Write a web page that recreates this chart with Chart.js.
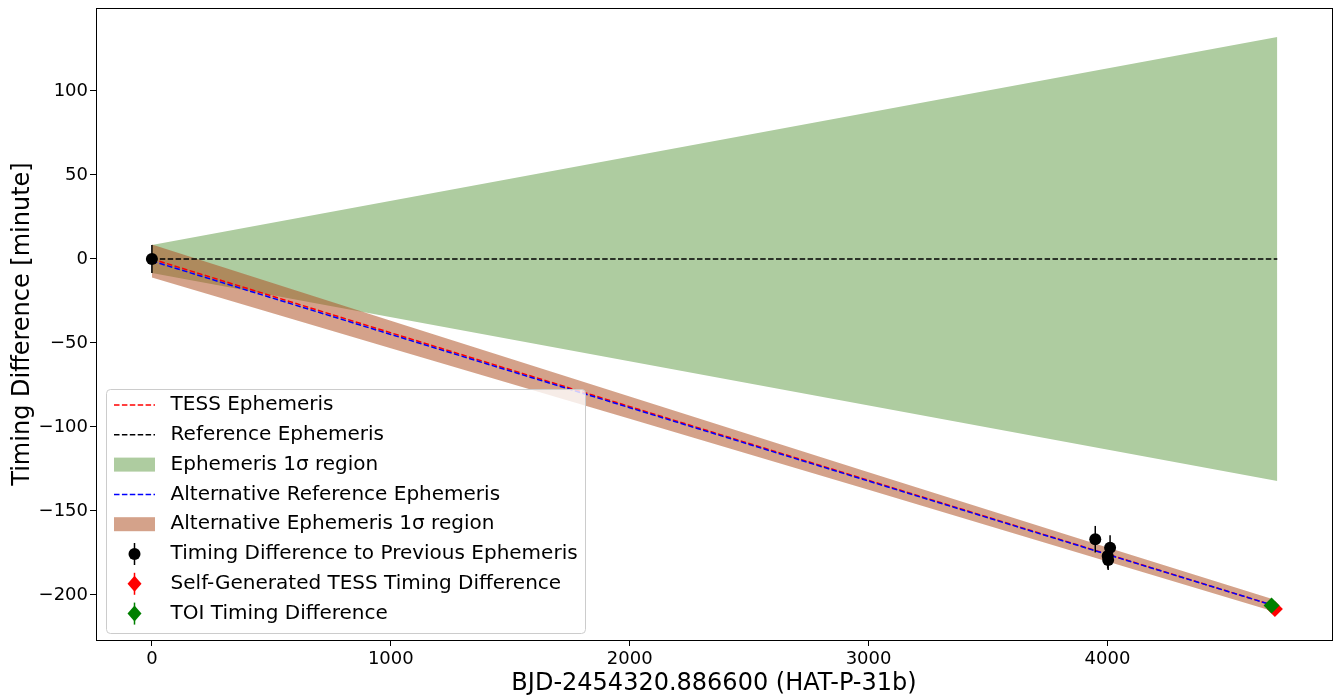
<!DOCTYPE html>
<html>
<head>
<meta charset="utf-8">
<script src="https://cdn.jsdelivr.net/npm/chart.js@4.4.0/dist/chart.umd.min.js"></script>
<style>
html,body{margin:0;padding:0;background:#fff;}
#wrap{width:1340px;height:698px;}
</style>
</head>
<body>
<div id="wrap"><canvas id="mychart" width="1340" height="698"></canvas></div>
<script>
// axis ticks
var xTicks = [0, 1000, 2000, 3000, 4000];
var yTicks = [-200, -150, -100, -50, 0, 50, 100];

// reference ephemeris and its 1 sigma region
var refX = [0, 4711];
var refY = [0, 0];
var refUp = [8.3, 132.1];
var refLow = [-8.3, -132.1];

// TESS ephemeris
var tessLineX = [0, 4690];
var tessLineY = [0, -206.0];

// alternative reference ephemeris and its 1 sigma region
var altX = [0, 1000, 2000, 3000, 4000, 4690];
var altY = [-1.2, -44.9, -88.5, -132.2, -175.9, -206.0];
var altUp = [8.6, -36.7, -81.9, -127.0, -171.7, -202.4];
var altLow = [-11.0, -53.1, -95.1, -137.4, -180.1, -209.6];

// timing differences
var obsX = [0, 3949, 4011, 4001, 4003];
var obsY = [0, -166.8, -171.9, -176.8, -179.2];
var obsErr = [8.3, 7.9, 7.5, 7.5, 6.0];
var tessPtX = [4701];
var tessPtY = [-208.3];
var tessPtErr = [1.0];
var toiX = [4687];
var toiY = [-206.2];
var toiErr = [1.0];

var FONT = "'DejaVu Sans', sans-serif";

function pairs(xs, ys) {
	var out = [];
	for (var i = 0; i < xs.length; i++) out.push({x: xs[i], y: ys[i]});
	return out;
}
function fmt(v) {
	return v < 0 ? '\u2212' + Math.abs(v) : String(v);
}

// error bars drawn under each marker
var errorBars = {
	id: 'errorBars',
	beforeDatasetDraw: function(chart, args) {
		var ds = chart.data.datasets[args.index];
		if (!ds.errors) return;
		var ctx = chart.ctx, ys = chart.scales.y;
		ctx.save();
		ctx.strokeStyle = ds.errorColor;
		ctx.lineWidth = 1.5;
		for (var i = 0; i < ds.data.length; i++) {
			var px = args.meta.data[i].x;
			ctx.beginPath();
			ctx.moveTo(px, ys.getPixelForValue(ds.data[i].y + ds.errors[i]));
			ctx.lineTo(px, ys.getPixelForValue(ds.data[i].y - ds.errors[i]));
			ctx.stroke();
		}
		ctx.restore();
	}
};

// frame around the plot + matplotlib style legend
var frameLegend = {
	id: 'frameLegend',
	afterDraw: function(chart) {
		var ctx = chart.ctx, a = chart.chartArea;
		ctx.save();
		ctx.strokeStyle = '#000';
		ctx.lineWidth = 1;
		ctx.strokeRect(Math.round(a.left) + 0.5, Math.round(a.top) + 0.5, Math.round(a.right - a.left), Math.round(a.bottom - a.top));

		var bx = a.left + 10, by = a.bottom - 251, bw = 479, bh = 244;
		ctx.beginPath();
		ctx.roundRect(bx + 0.5, by + 0.5, bw, bh, 4);
		ctx.fillStyle = 'rgba(255,255,255,0.8)';
		ctx.fill();
		ctx.strokeStyle = '#cccccc';
		ctx.stroke();

		var row = 0;
		chart.data.datasets.forEach(function(ds) {
			if (!ds.legendKind) return;
			var yc = by + 16 + row * 29.8;
			var h0 = bx + 8, h1 = bx + 49, hc = (h0 + h1) / 2;
			ctx.save();
			if (ds.legendKind == 'dash') {
				ctx.strokeStyle = ds.borderColor;
				ctx.lineWidth = 1.5;
				ctx.setLineDash([5.5, 2.4]);
				ctx.beginPath();
				ctx.moveTo(h0, yc);
				ctx.lineTo(h1, yc);
				ctx.stroke();
			} else if (ds.legendKind == 'fill') {
				ctx.fillStyle = ds.backgroundColor;
				ctx.fillRect(h0, yc - 7, h1 - h0, 14);
			} else {
				ctx.strokeStyle = ds.errorColor;
				ctx.lineWidth = 1.5;
				ctx.beginPath();
				ctx.moveTo(hc, yc - 11);
				ctx.lineTo(hc, yc + 11);
				ctx.stroke();
				ctx.fillStyle = ds.backgroundColor;
				ctx.beginPath();
				if (ds.legendKind == 'circle') {
					ctx.arc(hc, yc, 6, 0, Math.PI * 2);
				} else {
					ctx.moveTo(hc, yc - 8);
					ctx.lineTo(hc + 7, yc);
					ctx.lineTo(hc, yc + 8);
					ctx.lineTo(hc - 7, yc);
					ctx.closePath();
				}
				ctx.fill();
			}
			ctx.restore();
			ctx.fillStyle = '#000';
			ctx.font = '20px ' + FONT;
			ctx.textBaseline = 'middle';
			ctx.fillText(ds.label, bx + 64.6, yc);
			row++;
		});
		ctx.restore();
	}
};

var ctx = document.getElementById('mychart').getContext('2d');
var chart = new Chart(ctx, {
	type: 'scatter',
	data: {
		datasets: [{
			label: 'TESS Ephemeris',
			data: pairs(tessLineX, tessLineY),
			showLine: true, borderColor: 'rgb(255,0,0)', borderWidth: 1.5, borderDash: [5.5, 2.4],
			pointRadius: 0, legendKind: 'dash', order: 7
		}, {
			label: 'Reference Ephemeris',
			data: pairs(refX, refY),
			showLine: true, borderColor: '#000', borderWidth: 1.5, borderDash: [5.5, 2.4],
			pointRadius: 0, legendKind: 'dash', order: 8
		}, {
			label: 'Ephemeris 1\u03C3 region',
			data: pairs(refX, refUp),
			showLine: true, borderWidth: 0, pointRadius: 0,
			backgroundColor: 'rgb(174,204,160)', fill: '+1', legendKind: 'fill', order: 11
		}, {
			label: 'ref low',
			data: pairs(refX, refLow),
			showLine: true, borderWidth: 0, pointRadius: 0, order: 11
		}, {
			label: 'Alternative Reference Ephemeris',
			data: pairs(altX, altY),
			showLine: true, borderColor: 'rgb(0,0,255)', borderWidth: 1.5, borderDash: [5.5, 2.4],
			pointRadius: 0, legendKind: 'dash', order: 6
		}, {
			label: 'Alternative Ephemeris 1\u03C3 region',
			data: pairs(altX, altUp),
			showLine: true, borderWidth: 0, pointRadius: 0,
			backgroundColor: 'rgba(174,80,34,0.53)', fill: '+1', legendKind: 'fill', order: 10
		}, {
			label: 'alt low',
			data: pairs(altX, altLow),
			showLine: true, borderWidth: 0, pointRadius: 0, order: 10
		}, {
			label: 'Timing Difference to Previous Ephemeris',
			data: pairs(obsX, obsY), errors: obsErr, errorColor: '#000',
			pointStyle: 'circle', pointRadius: 6, backgroundColor: '#000', borderColor: '#000', borderWidth: 0,
			legendKind: 'circle', order: 5
		}, {
			label: 'Self-Generated TESS Timing Difference',
			data: pairs(tessPtX, tessPtY), errors: tessPtErr, errorColor: 'rgb(255,0,0)',
			pointStyle: 'rectRot', pointRadius: 8, backgroundColor: 'rgb(255,0,0)', borderWidth: 0,
			legendKind: 'diamond', order: 4
		}, {
			label: 'TOI Timing Difference',
			data: pairs(toiX, toiY), errors: toiErr, errorColor: 'rgb(0,128,0)',
			pointStyle: 'rectRot', pointRadius: 8, backgroundColor: 'rgb(0,128,0)', borderWidth: 0,
			legendKind: 'diamond', order: 3
		}]
	},
	options: {
		responsive: false,
		animation: false,
		devicePixelRatio: 1,
		layout: {padding: {left: 0, top: 8, right: 6, bottom: 0}},
		plugins: {legend: {display: false}, tooltip: {enabled: false}},
		scales: {
			x: {
				type: 'linear', min: -234, max: 4940,
				afterBuildTicks: function(s) { s.ticks = xTicks.map(function(v) { return {value: v}; }); },
				afterFit: function(s) { s.height = 58; s.paddingLeft = 0; s.paddingRight = 0; },
				ticks: {color: '#000', font: {family: FONT, size: 18}, padding: 3, maxRotation: 0, callback: fmt},
				grid: {drawOnChartArea: false, drawTicks: true, tickLength: 6, color: '#000', lineWidth: 1},
				border: {display: true, color: '#000', width: 1},
				title: {display: true, text: 'BJD-2454320.886600 (HAT-P-31b)', color: '#000',
					font: {family: FONT, size: 24}, padding: 0}
			},
			y: {
				type: 'linear', min: -226.8, max: 149.4,
				afterBuildTicks: function(s) { s.ticks = yTicks.map(function(v) { return {value: v}; }); },
				afterFit: function(s) { s.width = 96; s.paddingTop = 0; s.paddingBottom = 0; },
				ticks: {color: '#000', font: {family: FONT, size: 18}, padding: 2, callback: fmt},
				grid: {drawOnChartArea: false, drawTicks: true, tickLength: 6, color: '#000', lineWidth: 1},
				border: {display: true, color: '#000', width: 1},
				title: {display: true, text: 'Timing Difference [minute]', color: '#000',
					font: {family: FONT, size: 24}, padding: {top: 8, bottom: 0}}
			}
		}
	},
	plugins: [errorBars, frameLegend]
});
</script>
</body>
</html>
